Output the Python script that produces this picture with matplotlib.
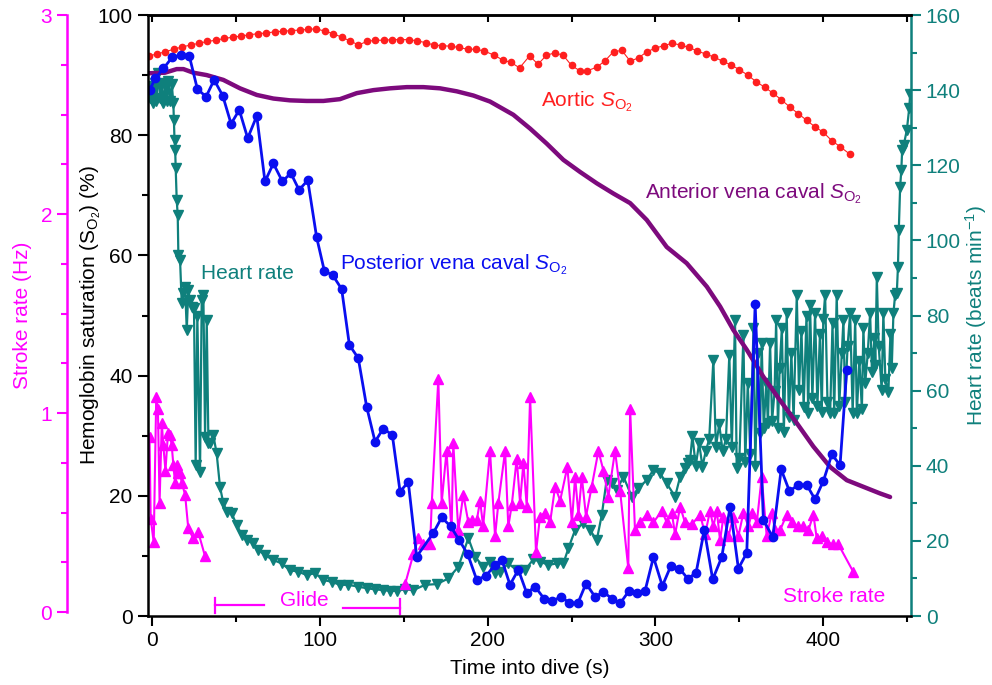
import matplotlib
matplotlib.use("Agg")
import matplotlib.pyplot as plt
from matplotlib.ticker import MultipleLocator

# ---- data ----
aortic_t = [-2, 3, 8, 13, 18, 23, 28, 33, 38, 43, 48, 53, 58, 63, 68, 73, 78, 83, 88, 93,
            98, 103, 108, 113, 118, 123, 128, 133, 138, 143, 148, 153, 158, 163, 168, 173,
            178, 183, 188, 193, 198, 204, 209, 214, 219, 225, 230, 235, 240, 245, 250, 255,
            259, 265, 270, 275, 280, 285, 290, 295, 300, 305, 310, 315, 320, 325, 330, 335,
            340, 345, 350, 355, 360, 365, 370, 375, 380, 385, 390, 395, 400, 405, 410, 416]
aortic_so2 = [93.2, 93.5, 93.9, 94.3, 94.7, 95.0, 95.3, 95.6, 95.8, 96.1, 96.3, 96.5, 96.7,
              96.9, 97.0, 97.2, 97.3, 97.4, 97.5, 97.6, 97.7, 97.3, 96.9, 96.3, 95.7, 95.0,
              95.6, 95.8, 95.8, 95.9, 95.9, 95.9, 95.7, 95.4, 95.0, 94.9, 94.8, 94.6, 94.3,
              94.3, 94.0, 93.3, 92.5, 92.1, 91.2, 93.2, 91.8, 93.3, 93.7, 93.3, 91.6, 90.7,
              90.7, 91.3, 92.4, 93.9, 94.1, 92.3, 92.9, 93.9, 94.5, 94.9, 95.3, 95.0, 94.6,
              94.0, 93.5, 93.0, 92.3, 91.7, 90.9, 90.0, 88.9, 88.0, 87.0, 85.9, 84.7, 83.6,
              82.5, 81.4, 80.5, 79.1, 78.1, 76.8]

anterior_t = [-2.4, 7.7, 14.7, 18.7, 24.6, 32.6, 42.5, 52.4, 62.4, 72.3, 82.2, 92.2, 102.1,
              112, 122, 131.9, 141.8, 151.8, 161.7, 171.6, 181.6, 191.5, 201.4, 215.3, 225.3,
              235.2, 245.1, 255, 265, 274.9, 284.9, 294.8, 306.7, 318.6, 330.6, 338.5, 346.4,
              354.4, 364.3, 374.2, 384.2, 394.1, 404.1, 414, 423.9, 433.8, 439.8]
anterior_so2 = [90.3, 90.4, 91.0, 91.0, 90.4, 90.0, 89.2, 87.8, 86.7, 86.1, 85.8, 85.7, 85.7,
                86.0, 87.0, 87.5, 87.8, 88.0, 88.0, 87.8, 87.3, 86.6, 85.6, 83.4, 81.1, 78.6,
                75.9, 73.9, 72.0, 70.3, 68.7, 65.9, 61.4, 58.7, 54.8, 51.5, 47.6, 44.3, 39.8,
                35.9, 32.1, 28.2, 24.8, 22.6, 21.5, 20.4, 19.8]

posterior_t = [-1.5, 2, 6.8, 12.1, 17.1, 22.2, 27.0, 32.2, 37.0, 42.1, 47.1, 52.0, 57.0, 62.4,
               67.3, 72.3, 77.7, 82.7, 87.6, 92.8, 98.1, 102.7, 107.7, 113.0, 117.6, 122.9,
               127.9, 132.9, 137.8, 143.2, 147.8, 152.7, 157.7, 167.6, 172.6, 178.0, 183.1,
               188.1, 193.5, 199.0, 204.4, 208.4, 213.3, 218.3, 223.3, 228.2, 233.6, 238.6,
               243.6, 248.7, 253.7, 258.6, 264.0, 269.0, 274.0, 278.9, 284.3, 288.9, 293.8,
               298.8, 304.1, 309.1, 314.3, 319.3, 324.2, 329.1, 334.1, 339.5, 344.5, 349.4,
               354.4, 359.4, 364.3, 369.9, 374.9, 379.8, 385.2, 390.2, 395.1, 400.1, 405.1,
               410.0, 414.0]
posterior_so2 = [87.5, 89.5, 91.1, 93.0, 93.3, 93.2, 87.7, 86.4, 89.2, 86.6, 81.9, 84.2, 79.5,
                 83.2, 72.3, 75.3, 72.3, 73.7, 70.9, 72.5, 63.0, 57.4, 56.7, 54.4, 45.1, 42.9,
                 34.8, 29.0, 31.2, 30.1, 20.7, 22.3, 9.9, 13.8, 16.4, 14.9, 12.6, 10.3, 6.0,
                 6.7, 8.5, 9.4, 5.2, 7.7, 3.8, 4.9, 2.9, 2.5, 3.2, 2.2, 2.1, 5.4, 3.2, 4.0, 2.9,
                 2.1, 4.2, 3.8, 4.2, 9.8, 5.0, 8.3, 7.9, 6.2, 7.2, 14.3, 6.1, 9.8, 18.2, 7.9,
                 10.5, 51.9, 16.0, 13.1, 24.4, 20.8, 21.8, 21.8, 19.4, 22.5, 26.9, 25.1, 41.0]

hr_t = [-1.5, -0.5, 0.5, 1.5, 2.5, 3.8, 4.8, 5.8, 6.8, 7.8, 8.8, 9.8, 10.8, 11.8, 12.7, 13.0,
        13.4, 13.8, 14.1, 14.7, 15.3, 15.7, 16.7, 17.7, 18.7, 19.7, 20.7, 21.6, 22.6, 23.7,
        25.0, 26.0, 27.0, 28.6, 29.6, 30.6, 31.6, 32.6, 33.6, 34.6, 36.5, 38.5, 40.5, 42.5,
        44.5, 47.5, 50.5, 53.5, 56.4, 60.4, 63.4, 67.3, 72.3, 77.3, 82.2, 87.2, 92.2, 97.1,
        102.1, 107.1, 112, 117, 123, 127.9, 132.9, 137.8, 141.8, 145.8, 150.8, 155.7, 162.7,
        169.7, 176.6, 182.5, 188.5, 192.5, 197.4, 201.4, 204.4, 207.4, 212.3, 217.3, 222.3,
        227.2, 231.2, 236.2, 241.2, 245.1, 248.1, 252.1, 257.0, 261, 265, 268, 270.9, 273.9,
        276.9, 280.9, 285.9, 289.8, 294.8, 298.8, 302.7, 306.7, 311.7, 314.7, 317.6, 319.6,
        320.6, 322, 324, 326, 328, 330, 332, 334.5, 336, 338, 340, 342, 344, 345.5, 347.4,
        348.4, 350, 352.4, 353.5, 355, 356.5, 358.4, 359.5, 361, 362.3, 363.3, 364.5, 366,
        367, 368.3, 369.5, 371, 371.9, 373, 374, 375.3, 376.5, 378.2, 379.5, 381, 382.3,
        384.2, 385.5, 387, 388.3, 390, 391, 392.1, 393.5, 395.1, 396.5, 398, 399.1, 400,
        401.1, 402.5, 404.1, 405.5, 406.5, 408, 409.5, 411, 412, 413, 414.5, 416, 417.5, 419,
        420, 421.5, 423, 423.9, 425, 426.5, 427.9, 429, 430.5, 431, 431.9, 433, 434.8, 435.8,
        437, 438.8, 440, 440.8, 441.8, 442.8, 443.8, 444.5, 445, 445.8, 446.5, 447, 448,
        449.8, 451.2, 451.8]
hr_bpm = [138, 141, 136.5, 142, 137, 144.5, 138, 142, 136.5, 141, 137, 142.5, 137, 141.5,
          136.5, 132, 126.7, 124, 119.2, 110.8, 106.8, 96.1, 94.8, 83.3, 86.0, 87.7, 76.1,
          86.8, 84, 82.3, 82, 40.2, 80, 38.4, 84, 85.5, 47.7, 78.8, 46.0, 46.0, 48.2, 43.3,
          34.4, 30.0, 27.8, 27.3, 24.2, 21.6, 20.2, 19.4, 17.6, 16.2, 14.9, 14.0, 12.2, 11.8,
          10.9, 11.4, 9.6, 9.1, 8.3, 8.3, 7.8, 7.4, 7.1, 6.9, 6.7, 6.7, 7.1, 6.9, 8.3, 8.5,
          10.0, 13.1, 20.7, 15.8, 13.1, 14.5, 11.5, 11.8, 14.0, 12.2, 12.2, 15.1, 14.5, 13.6,
          14.0, 14.0, 18.0, 22.9, 24.7, 22.9, 20.2, 26.9, 36.2, 35.3, 33.5, 37.1, 31.8, 34.0,
          36.2, 38.9, 38.0, 35.3, 31.8, 37.1, 39.5, 40.7,
          41.5, 48, 40, 46, 39.8, 44, 47, 68.2, 45, 51, 44, 47, 69.5, 45, 78.8,
          39.3, 42, 74.8, 41.1, 62, 43, 76.6, 40, 70, 48.6, 72.6, 50, 62,
          51.3, 72.6, 52, 60, 78.8, 50, 66, 76.6, 49.1, 80.6, 53, 70, 52.2,
          85.5, 60.2, 76, 55.7, 80, 54, 82.8, 58, 80.6, 56, 75, 54.4, 79,
          85.5, 57, 54, 78, 54, 85.5, 56, 70, 78.8, 57, 72, 80.6, 54, 78.8,
          54, 68, 55, 76.6, 62, 70, 80.6, 65, 74, 66.8, 90.3, 72, 60.2, 80.6,
          63, 59.7, 75, 66, 80.6, 85.5, 85.9, 93.0, 102.8, 114.3, 118.7, 124.1, 125.5,
          129.4, 135.2, 139.0]

stroke_t = [-1.5, -0.8, 1.0, 2.5, 3.5, 4.5, 5.8, 6.7, 8.0, 9.5, 10.7, 11.7, 12.7, 13.7, 14.7,
            15.7, 16.7, 17.7, 19.7, 21.6, 24.6, 27.6, 31.6]
stroke_hz = [0.88, 0.47, 0.35, 1.08, 1.02, 0.55, 0.95, 0.84, 0.71, 0.90, 0.89, 0.84, 0.74,
             0.65, 0.74, 0.70, 0.70, 0.65, 0.59, 0.42, 0.37, 0.40, 0.28]
stroke2_t = [150.8, 155.7, 158.7, 161.7, 165.7, 166.7, 170.6, 172.6, 175.5, 178.5, 179.5,
             182.5, 185.5, 188.5, 190.5, 193.5, 195.5, 197.3, 201.4, 204.4, 206.4, 210.4,
             212.3, 214.4, 217.3, 219.3, 221.3, 223.3, 225.3, 228.8, 231.2, 234.2, 237.2,
             240.2, 243.2, 247.5, 250.2, 252.1, 254.1, 256.1, 258.6, 262, 266, 269, 271.9,
             275.9, 278.9, 283.8, 284.9, 287.8, 290.8, 294.8, 298.8, 303.8, 306.7, 309.7,
             311.7, 314.7, 317.6, 321.6, 326.6, 329.6, 332.5, 334.5, 336.5, 338.5, 340.5,
             343.5, 346.4, 349.4, 352.4, 355.4, 357.4, 360.4, 363.3, 366.3, 369.3, 371.3,
             374.2, 378.2, 381.2, 385.2, 388.2, 391.1, 394.1, 396.1, 399.1, 402.1, 406, 409,
             418]
stroke2_hz = [0.14, 0.29, 0.37, 0.34, 0.34, 0.55, 1.17, 0.55, 0.81, 0.40, 0.85, 0.41, 0.59,
              0.45, 0.46, 0.46, 0.56, 0.43, 0.81, 0.38, 0.55, 0.81, 0.43, 0.54, 0.77, 0.55,
              0.75, 0.53, 1.08, 0.30, 0.48, 0.50, 0.45, 0.63, 0.56, 0.73, 0.45, 0.68, 0.49,
              0.68, 0.48, 0.63, 0.81, 0.71, 0.58, 0.81, 0.61, 0.22, 1.02, 0.41, 0.45, 0.49,
              0.45, 0.51, 0.45, 0.50, 0.39, 0.53, 0.45, 0.44, 0.49, 0.39, 0.51, 0.43, 0.51,
              0.36, 0.48, 0.38, 0.48, 0.38, 0.50, 0.43, 0.50, 0.45, 0.68, 0.38, 0.50, 0.41,
              0.41, 0.49, 0.45, 0.43, 0.43, 0.41, 0.49, 0.37, 0.38, 0.35, 0.34, 0.34, 0.20]

glide_start, glide_end = 37.5, 147.5

RED = "#ff1f1f"
BLUE = "#0a0ff0"
PURPLE = "#7d0a7d"
TEAL = "#0f807c"
MAGENTA = "#ff00ff"

plt.rcParams["font.family"] = ["Liberation Sans", "DejaVu Sans"]
plt.rcParams["mathtext.fontset"] = "custom"
plt.rcParams["mathtext.rm"] = "Liberation Sans"
plt.rcParams["mathtext.it"] = "Liberation Sans:italic"
plt.rcParams["font.size"] = 15

fig = plt.figure(figsize=(9.92, 6.85), dpi=100)
ax = fig.add_axes([0.1492, 0.1007, 0.7692, 0.8774])
ax_hr = ax.twinx()
ax_sr = ax.twinx()
ax.set_zorder(3)
ax_sr.set_zorder(2)
ax_hr.set_zorder(1)
ax.patch.set_visible(False)
ax_sr.patch.set_visible(False)

# heart rate
ax_hr.plot(hr_t, hr_bpm, color=TEAL, lw=1.6, marker="v", ms=7, mec=TEAL, mfc=TEAL)
ax_hr.set_ylim(0, 160)
ax_hr.yaxis.set_major_locator(MultipleLocator(20))
ax_hr.yaxis.set_minor_locator(MultipleLocator(10))
ax_hr.tick_params(axis="y", which="major", colors=TEAL, length=7, width=1.5, labelsize=15)
ax_hr.tick_params(axis="y", which="minor", colors=TEAL, length=4, width=1.5)
ax_hr.spines["right"].set_color(TEAL)
ax_hr.spines["right"].set_linewidth(1.8)
for s in ["top", "left", "bottom"]:
    ax_hr.spines[s].set_visible(False)
ax_hr.set_ylabel(r"Heart rate (beats min$^{-1}$)", color=TEAL, fontsize=15, labelpad=2)

# stroke rate
ax_sr.plot(stroke_t, stroke_hz, color=MAGENTA, lw=1.5, marker="^", ms=7, mec=MAGENTA, mfc=MAGENTA)
ax_sr.plot(stroke2_t, stroke2_hz, color=MAGENTA, lw=1.5, marker="^", ms=7, mec=MAGENTA, mfc=MAGENTA)
ax_sr.set_ylim(-0.02, 3)
ax_sr.yaxis.set_ticks_position("left")
ax_sr.yaxis.set_label_position("left")
ax_sr.spines["left"].set_position(("outward", 58))
ax_sr.spines["left"].set_bounds(0, 3)
ax_sr.spines["left"].set_color(MAGENTA)
ax_sr.spines["left"].set_linewidth(1.8)
for s in ["top", "right", "bottom"]:
    ax_sr.spines[s].set_visible(False)
ax_sr.set_yticks([0, 1, 2, 3])
ax_sr.yaxis.set_minor_locator(MultipleLocator(0.25))
ax_sr.tick_params(axis="y", which="major", colors=MAGENTA, length=7.5, width=1.5, labelsize=15)
ax_sr.tick_params(axis="y", which="minor", colors=MAGENTA, length=4.5, width=1.5)
ax_sr.set_ylabel("Stroke rate (Hz)", color=MAGENTA, fontsize=15, labelpad=6)

# saturation curves
ax.plot(anterior_t, anterior_so2, color=PURPLE, lw=3.2, solid_capstyle="round")
ax.plot(aortic_t, aortic_so2, color=RED, lw=0.8, marker="o", ms=4.5, mec=RED, mfc=RED)
ax.plot(posterior_t, posterior_so2, color=BLUE, lw=2, marker="o", ms=6, mec=BLUE, mfc=BLUE)

ax.set_xlim(-2.4, 452.3)
ax.set_ylim(0, 100)
ax.set_xticks([0, 100, 200, 300, 400])
ax.xaxis.set_minor_locator(MultipleLocator(50))
ax.yaxis.set_major_locator(MultipleLocator(20))
ax.yaxis.set_minor_locator(MultipleLocator(10))
ax.tick_params(axis="both", which="major", length=7.5, width=1.5, labelsize=15)
ax.tick_params(axis="both", which="minor", length=4.5, width=1.5)
ax.spines["right"].set_visible(False)
for s in ["left", "top", "bottom"]:
    ax.spines[s].set_linewidth(1.8)
ax.set_xlabel("Time into dive (s)", fontsize=15, labelpad=6)
ax.set_ylabel(r"Hemoglobin saturation ($\mathrm{S_{O_2}}$) (%)", fontsize=15, labelpad=-4)

top = ax.secondary_xaxis("top")
top.set_xticks([0, 50, 100, 150, 200, 250, 300, 350, 400, 450])
top.tick_params(direction="in", length=5, width=1.5, labeltop=False)
top.spines["top"].set_linewidth(1.8)

# glide bracket
ax.plot([glide_start, 67], [1.8, 1.8], color=MAGENTA, lw=1.6)
ax.plot([114, glide_end], [1.4, 1.4], color=MAGENTA, lw=1.6)
ax.plot([glide_start, glide_start], [0.5, 3.0], color=MAGENTA, lw=1.6)
ax.plot([glide_end, glide_end], [0.3, 2.8], color=MAGENTA, lw=1.6)
ax.text(91, 2.6, "Glide", color=MAGENTA, fontsize=15, ha="center", va="center")

box = dict(facecolor="white", edgecolor="none", pad=1.5)
ax.text(29, 57, "Heart rate", color=TEAL, fontsize=15, va="center", bbox=box)
ax.text(112, 58.5, r"Posterior vena caval $S_{\mathrm{O_2}}$", color=BLUE, fontsize=15,
        va="center", bbox=box)
ax.text(232, 85.5, r"Aortic $S_{\mathrm{O_2}}$", color=RED, fontsize=15, va="center", bbox=box)
ax.text(294, 70.3, r"Anterior vena caval $S_{\mathrm{O_2}}$", color=PURPLE, fontsize=15,
        va="center", bbox=box)
ax.text(376, 3.3, "Stroke rate", color=MAGENTA, fontsize=15, va="center")

fig.savefig("out.png", dpi=100)
